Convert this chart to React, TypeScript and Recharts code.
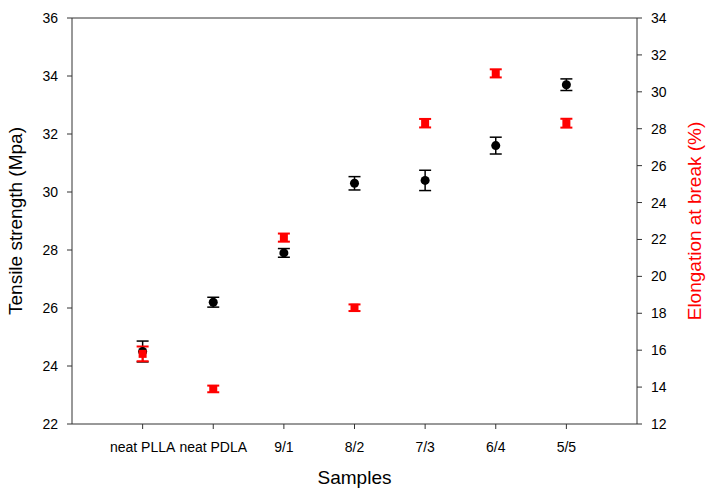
import { ScatterChart, Scatter, XAxis, YAxis, ErrorBar, ReferenceLine, Label } from "recharts";

const samples = ["neat PLLA", "neat PDLA", "9/1", "8/2", "7/3", "6/4", "5/5"];
const tensile = [24.5, 26.2, 27.9, 30.3, 30.4, 31.6, 33.7];
const tensileErr = [0.36, 0.17, 0.15, 0.23, 0.35, 0.29, 0.2];
const elongation = [15.8, 13.9, 22.1, 18.3, 28.3, 31.0, 28.3];
const elongationErr = [0.4, 0.18, 0.22, 0.18, 0.23, 0.22, 0.24];
const leftTicks = [22, 24, 26, 28, 30, 32, 34, 36];
const rightTicks = [12, 14, 16, 18, 20, 22, 24, 26, 28, 30, 32, 34];

const tsData = samples.map((s, i) => ({ x: i + 1, name: s, y: tensile[i], err: tensileErr[i] }));
const elData = samples.map((s, i) => ({ x: i + 1, name: s, y: elongation[i], err: elongationErr[i] }));

const FONT = '"Liberation Sans", Arial, sans-serif';
const AXIS = "#333";

// 轴标题：旋转的文字自己画
const leftTitle = ({ viewBox }: any) => (
  <text
    x={viewBox.x + 10}
    y={viewBox.y + viewBox.height / 2}
    transform={`rotate(-90, ${viewBox.x + 10}, ${viewBox.y + viewBox.height / 2})`}
    textAnchor="middle"
    fontSize={19}
    fontFamily={FONT}
    fill="#000"
  >
    Tensile strength (Mpa)
  </text>
);

const rightTitle = ({ viewBox }: any) => (
  <text
    x={viewBox.x + 64}
    y={viewBox.y + viewBox.height / 2}
    transform={`rotate(-90, ${viewBox.x + 64}, ${viewBox.y + viewBox.height / 2})`}
    textAnchor="middle"
    fontSize={19}
    fontFamily={FONT}
    fill="#ff0000"
  >
    Elongation at break (%)
  </text>
);

const bottomTitle = ({ viewBox }: any) => (
  <text
    x={viewBox.x + viewBox.width / 2}
    y={viewBox.y + 60}
    textAnchor="middle"
    fontSize={19}
    fontFamily={FONT}
    fill="#000"
  >
    Samples
  </text>
);

export default function App() {
  return (
    <div style={{ position: "absolute", left: 0, top: 0, width: 720, height: 496, background: "#fff" }}>
      <ScatterChart width={720} height={496} margin={{ top: 18, right: 23, bottom: 42, left: 12 }}>
        <XAxis
          dataKey="x"
          type="number"
          domain={[0, 8]}
          ticks={[1, 2, 3, 4, 5, 6, 7]}
          tickFormatter={(v: number) => samples[v - 1] ?? ""}
          height={30}
          stroke={AXIS}
          tickSize={5}
          tickMargin={13}
          tick={{ fill: "#000", fontSize: 14, fontFamily: FONT }}
          interval={0}
        >
          <Label content={bottomTitle} />
        </XAxis>
        <YAxis
          yAxisId="left"
          dataKey="y"
          type="number"
          domain={[22, 36]}
          ticks={leftTicks}
          width={60}
          stroke={AXIS}
          tickSize={5}
          tickMargin={9}
          tick={{ fill: "#000", fontSize: 14, fontFamily: FONT }}
          interval={0}
        >
          <Label content={leftTitle} />
        </YAxis>
        <YAxis
          yAxisId="right"
          orientation="right"
          dataKey="y"
          type="number"
          domain={[12, 34]}
          ticks={rightTicks}
          width={60}
          stroke={AXIS}
          tickSize={5}
          tickMargin={9}
          tick={{ fill: "#000", fontSize: 14, fontFamily: FONT }}
          interval={0}
        >
          <Label content={rightTitle} />
        </YAxis>
        <ReferenceLine yAxisId="left" y={36} stroke={AXIS} strokeWidth={1} />
        <Scatter
          yAxisId="left"
          data={tsData}
          fill="#000"
          shape="circle"
          size={40}
          isAnimationActive={false}
        >
          <ErrorBar dataKey="err" direction="y" width={6} stroke="#000" strokeWidth={1.5} isAnimationActive={false} />
        </Scatter>
        <Scatter
          yAxisId="right"
          data={elData}
          fill="#ff0000"
          shape="square"
          size={36}
          isAnimationActive={false}
        >
          <ErrorBar dataKey="err" direction="y" width={6} stroke="#ff0000" strokeWidth={2} isAnimationActive={false} />
        </Scatter>
      </ScatterChart>
    </div>
  );
}
